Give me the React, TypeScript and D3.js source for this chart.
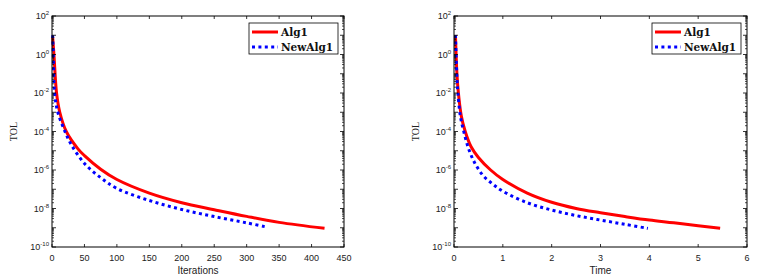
import React from 'react';
import * as d3 from 'd3';

// values
const alg1Iter = [1, 3, 7, 12, 22, 40, 50, 75, 100, 150, 200, 250, 300, 350, 420];
const alg1IterTol = [7.9, 1.0, 1e-2, 1e-3, 1e-4, 1.26e-5, 5.6e-6, 1.1e-6, 3.2e-7, 6.3e-8, 2.0e-8, 8.7e-9, 3.9e-9, 1.9e-9, 9.3e-10];
const newAlg1Iter = [1, 2, 4, 9, 20, 30, 50, 75, 100, 150, 200, 250, 300, 330];
const newAlg1IterTol = [10, 1, 1e-2, 1e-3, 1e-4, 2.0e-5, 2.2e-6, 4.0e-7, 1.1e-7, 2.6e-8, 8.9e-9, 3.8e-9, 1.8e-9, 1.1e-9];

const alg1Time = [0.03, 0.06, 0.09, 0.15, 0.23, 0.35, 0.5, 0.75, 1, 1.5, 2, 2.5, 3, 3.5, 4, 4.5, 5, 5.45];
const alg1TimeTol = [10, 1e-1, 1e-2, 6.3e-4, 1e-4, 1.6e-5, 4.5e-6, 1.0e-6, 3.2e-7, 6.3e-8, 2.1e-8, 1e-8, 6.0e-9, 3.8e-9, 2.5e-9, 1.8e-9, 1.26e-9, 9.3e-10];
const newAlg1Time = [0.03, 0.06, 0.08, 0.13, 0.2, 0.3, 0.43, 0.6, 0.8, 1, 1.5, 2, 2.5, 3, 3.5, 3.97];
const newAlg1TimeTol = [10, 6.3e-2, 1e-2, 6.3e-4, 1e-4, 1.26e-5, 2.2e-6, 5.0e-7, 1.8e-7, 7.9e-8, 2.0e-8, 8.3e-9, 4.3e-9, 2.5e-9, 1.5e-9, 9.3e-10];

const iterTicks = [0, 50, 100, 150, 200, 250, 300, 350, 400, 450];
const timeTicks = [0, 1, 2, 3, 4, 5, 6];
const yExponents = [2, 0, -2, -4, -6, -8, -10];
const legendNames = ['Alg1', 'NewAlg1'];

const sans = '"Liberation Sans", Arial, sans-serif';
const serif = '"DejaVu Serif", serif';

type PanelProps = {
  left: number;
  right: number;
  xMax: number;
  xTicks: number[];
  xLabel: string;
  redX: number[];
  redY: number[];
  blueX: number[];
  blueY: number[];
};

function Panel({ left, right, xMax, xTicks, xLabel, redX, redY, blueX, blueY }: PanelProps) {
  const top = 16;
  const bottom = 247;
  const x = d3.scaleLinear().domain([0, xMax]).range([left, right]);
  const y = d3.scaleLog().domain([1e-10, 1e2]).range([bottom, top]);

  const line = d3
    .line<[number, number]>()
    .x((d) => x(d[0]))
    .y((d) => y(d[1]))
    .curve(d3.curveCatmullRom.alpha(0.5));

  const red = redX.map((v, i) => [v, redY[i]] as [number, number]);
  const blue = blueX.map((v, i) => [v, blueY[i]] as [number, number]);

  const minor: number[] = [];
  for (let e = -10; e < 2; e++) {
    for (let k = 2; k <= 9; k++) minor.push(k * Math.pow(10, e));
  }
  const decades = d3.range(-10, 3).map((e) => Math.pow(10, e));

  const lx = right - 95;
  const ly = 23;

  return (
    <g>
      <rect x={left} y={top} width={right - left} height={bottom - top} fill="#fff" />
      <path d={line(red) ?? ''} fill="none" stroke="#ff0000" strokeWidth={3} />
      <path d={line(blue) ?? ''} fill="none" stroke="#0000ff" strokeWidth={3} strokeDasharray="3 3.4" />

      {/* minor log ticks */}
      {minor.map((v, i) => (
        <g key={'m' + i}>
          <line x1={left} x2={left + 2} y1={y(v)} y2={y(v)} stroke="#000" strokeWidth={0.7} />
          <line x1={right} x2={right - 2} y1={y(v)} y2={y(v)} stroke="#000" strokeWidth={0.7} />
        </g>
      ))}
      {decades.map((v, i) => (
        <g key={'d' + i}>
          <line x1={left} x2={left + 4} y1={y(v)} y2={y(v)} stroke="#000" strokeWidth={0.8} />
          <line x1={right} x2={right - 4} y1={y(v)} y2={y(v)} stroke="#000" strokeWidth={0.8} />
        </g>
      ))}
      {xTicks.map((t) => (
        <g key={'x' + t}>
          <line x1={x(t)} x2={x(t)} y1={bottom} y2={bottom - 3} stroke="#000" strokeWidth={0.8} />
          <line x1={x(t)} x2={x(t)} y1={top} y2={top + 3} stroke="#000" strokeWidth={0.8} />
          <text x={x(t)} y={bottom + 14} textAnchor="middle" fontFamily={sans} fontSize={9} fill="#222">
            {t}
          </text>
        </g>
      ))}
      {yExponents.map((e) => (
        <text key={'y' + e} x={left - 3} y={y(Math.pow(10, e)) + 3} textAnchor="end" fontFamily={sans} fontSize={9} fill="#222">
          10<tspan fontSize={6} dy={-4}>{e}</tspan>
        </text>
      ))}
      <rect x={left} y={top} width={right - left} height={bottom - top} fill="none" stroke="#000" strokeWidth={1} />

      <text x={(left + right) / 2} y={274} textAnchor="middle" fontFamily={sans} fontSize={10} fill="#222">
        {xLabel}
      </text>
      <text
        transform={`translate(${left - 35},${(top + bottom) / 2}) rotate(-90)`}
        textAnchor="middle"
        fontFamily='"Liberation Serif", serif'
        fontSize={10}
        fill="#222"
      >
        TOL
      </text>

      <g transform={`translate(${lx},${ly})`}>
        <rect x={0} y={0} width={89} height={31} fill="#fff" stroke="#000" strokeWidth={0.8} />
        <line x1={3} x2={29} y1={9} y2={9} stroke="#ff0000" strokeWidth={3} />
        <line x1={3} x2={29} y1={24} y2={24} stroke="#0000ff" strokeWidth={3} strokeDasharray="3 3.4" />
        {legendNames.map((n, i) => (
          <text key={n} x={32} y={13 + i * 15} fontFamily={serif} fontWeight="bold" fontSize={10.5} fill="#111">
            {n}
          </text>
        ))}
      </g>
    </g>
  );
}

export default function App() {
  return (
    <svg width={781} height={278} style={{ position: 'absolute', left: 0, top: 0, background: '#fff' }}>
      <Panel
        left={52}
        right={344}
        xMax={450}
        xTicks={iterTicks}
        xLabel="Iterations"
        redX={alg1Iter}
        redY={alg1IterTol}
        blueX={newAlg1Iter}
        blueY={newAlg1IterTol}
      />
      <Panel
        left={454}
        right={747}
        xMax={6}
        xTicks={timeTicks}
        xLabel="Time"
        redX={alg1Time}
        redY={alg1TimeTol}
        blueX={newAlg1Time}
        blueY={newAlg1TimeTol}
      />
    </svg>
  );
}
